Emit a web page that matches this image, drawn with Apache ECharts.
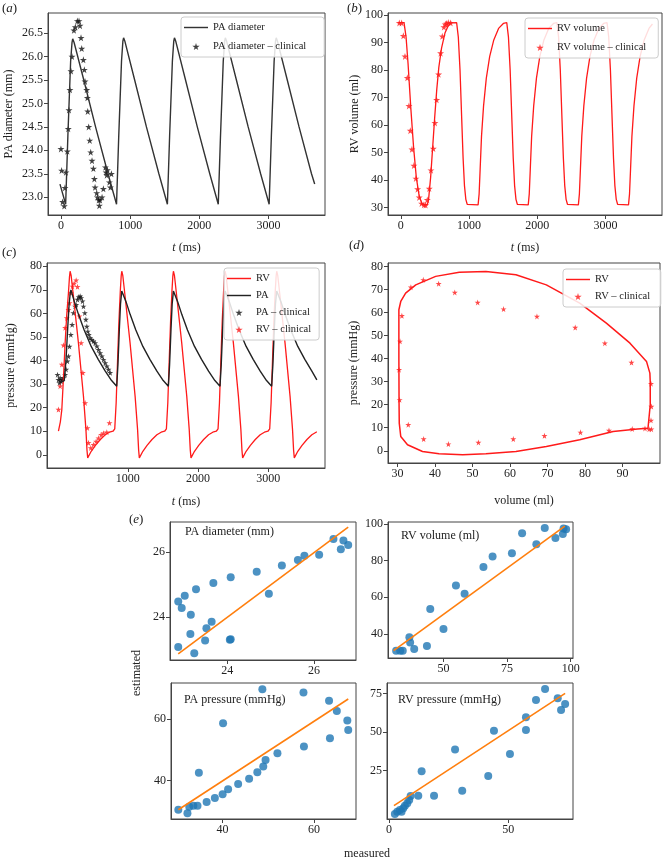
<!DOCTYPE html>
<html>
<head>
<meta charset="utf-8">
<script src="https://cdn.jsdelivr.net/npm/echarts@6/dist/echarts.min.js"></script>
<style>
  html, body { margin: 0; padding: 0; background: #fff; }
  #main { width: 667px; height: 861px; }
</style>
</head>
<body>
<div id="main"></div>
<script>
// ---- (a) PA diameter vs time ----
var paDiaModel = [[-14,23.28],[68,22.85],[100,24.3],[140,25.9],[160,26.3],[170,26.38],[190,26.3],[330,25.5],[500,24.5],[680,23.5],[803,22.85],
  [835,24.3],[875,25.9],[895,26.33],[905,26.4],[925,26.32],[1065,25.5],[1235,24.5],[1415,23.5],[1538,22.85],
  [1570,24.3],[1610,25.9],[1630,26.33],[1640,26.4],[1660,26.32],[1800,25.5],[1970,24.5],[2150,23.5],[2273,22.85],
  [2305,24.3],[2345,25.9],[2365,26.33],[2375,26.4],[2395,26.32],[2535,25.5],[2705,24.5],[2885,23.5],[3008,22.85],
  [3040,24.3],[3080,25.9],[3100,26.33],[3110,26.4],[3130,26.32],[3270,25.5],[3440,24.5],[3620,23.5],[3666,23.28]];
var paDiaClinical = [[0,24.03],[10,23.57],[24,22.9],[48,22.81],[58,23.2],[72,23.53],[92,23.98],[106,24.46],[116,24.86],[130,25.29],
  [145,25.69],[160,26.0],[188,26.56],[208,26.63],[237,26.76],[261,26.76],[275,26.66],[290,26.4],[300,26.17],[324,25.93],
  [338,25.72],[348,25.47],[372,25.29],[382,25.12],[387,24.83],[401,24.5],[416,24.21],[430,23.96],[449,23.78],[469,23.61],
  [483,23.39],[493,23.21],[517,23.09],[527,23.0],[546,22.94],[555,22.82],[565,22.94],[594,23.0],[613,23.18],[642,23.64],
  [652,23.53],[662,23.47],[671,23.58],[700,23.32],[715,23.21],[729,23.5]];

// ---- (b) RV volume vs time ----
var rvVolModel = [[-35,97.3],
  [48,97.3],[78,92],[108,82],[148,66],[188,52],[228,41],[268,34.5],[308,31.5],[348,31],[388,31],[408,33],[438,41],[468,52],[498,63],[528,73],[558,81],[598,88],[648,93.5],[698,96.3],[738,97.2],
  [819,97.3],[844,92],[869,80],[894,62],[914,48],[934,38],[954,33],[974,31.2],[994,31],[1134,31],[1149,35],[1164,44],[1184,56],[1214,67],[1254,77],[1304,85],[1364,91],[1434,95.2],[1504,97],
  [1554,97.3],[1579,92],[1604,80],[1629,62],[1649,48],[1669,38],[1689,33],[1709,31.2],[1729,31],[1869,31],[1884,35],[1899,44],[1919,56],[1949,67],[1989,77],[2039,85],[2099,91],[2169,95.2],[2239,97],
  [2289,97.3],[2314,92],[2339,80],[2364,62],[2384,48],[2404,38],[2424,33],[2444,31.2],[2464,31],[2604,31],[2619,35],[2634,44],[2654,56],[2684,67],[2724,77],[2774,85],[2834,91],[2904,95.2],[2974,97],
  [3024,97.3],[3049,92],[3074,80],[3099,62],[3119,48],[3139,38],[3159,33],[3179,31.2],[3199,31],[3339,31],[3354,35],[3369,44],[3389,56],[3419,67],[3459,77],[3509,85],[3569,91],[3639,95.2],[3690,96.8]];
var rvVolClinical = [[-21,97.2],[13,97.2],[38,92.5],[62,85],[96,77.2],[120,67],[140,58],[164,51.2],[193,45.3],[222,40.6],
  [247,36.7],[271,33.7],[305,31.5],[340,31],[364,30.9],[389,32.8],[418,36.9],[443,43.6],[477,51.5],[501,60.8],
  [526,69.2],[555,78.5],[584,86.2],[609,92.3],[633,95.7],[653,96.7],[672,97],[697,97.3],[731,97.2]];

// ---- (c) pressures vs time ----
var rvPresModel = [[13,10],[40,14],[61,19.2],[90,36],[108,47.5],[130,59],[155,68.7],[170,75.5],[179,77.9],
  [194,76],[226,67.3],[297,47.5],[369,24.8],[404,10.7],[419,2],[429,-1.3],[444,-0.5],[479,1.5],[539,4],[609,6.5],[679,8.5],[739,9.6],[789,10],[814,11],[834,22],[854,40],[874,57],[894,70],[906,76],[914,77.9],
  [929,76],[961,67.3],[1032,47.5],[1104,24.8],[1139,10.7],[1154,2],[1164,-1.3],[1179,-0.5],[1214,1.5],[1274,4],[1344,6.5],[1414,8.5],[1474,9.6],[1524,10],[1549,11],[1569,22],[1589,40],[1609,57],[1629,70],[1641,76],[1649,77.9],
  [1664,76],[1696,67.3],[1767,47.5],[1839,24.8],[1874,10.7],[1889,2],[1899,-1.3],[1914,-0.5],[1949,1.5],[2009,4],[2079,6.5],[2149,8.5],[2209,9.6],[2259,10],[2284,11],[2304,22],[2324,40],[2344,57],[2364,70],[2376,76],[2384,77.9],
  [2399,76],[2431,67.3],[2502,47.5],[2574,24.8],[2609,10.7],[2624,2],[2634,-1.3],[2649,-0.5],[2684,1.5],[2744,4],[2814,6.5],[2884,8.5],[2944,9.6],[2994,10],[3019,11],[3039,22],[3059,40],[3079,57],[3099,70],[3111,76],[3119,77.9],
  [3134,76],[3166,67.3],[3237,47.5],[3309,24.8],[3344,10.7],[3359,2],[3369,-1.3],[3384,-0.5],[3419,1.5],[3479,4],[3549,6.5],[3619,8.5],[3679,9.6],[3690,9.8]];
var paPresModel = [[13,31.5],[60,31],[95,31.5],[120,40],[145,54],[165,64],[182,69],[191,70],
  [239,65],[299,59.5],[379,53],[479,46],[579,40.5],[679,35.5],[769,31.5],[842,29.1],[859,38],[879,53],[896,64],[914,69.5],[926,70],
  [974,65],[1034,59.5],[1114,53],[1214,46],[1314,40.5],[1414,35.5],[1504,31.5],[1577,29.1],[1594,38],[1614,53],[1631,64],[1649,69.5],[1661,70],
  [1709,65],[1769,59.5],[1849,53],[1949,46],[2049,40.5],[2149,35.5],[2239,31.5],[2312,29.1],[2329,38],[2349,53],[2366,64],[2384,69.5],[2396,70],
  [2444,65],[2504,59.5],[2584,53],[2684,46],[2784,40.5],[2884,35.5],[2974,31.5],[3047,29.1],[3064,38],[3084,53],[3101,64],[3119,69.5],[3131,70],
  [3179,65],[3239,59.5],[3319,53],[3419,46],[3519,40.5],[3619,35.5],[3690,31.8]];
var paPresClinical = [[0,34],[13,31.9],[28,30.5],[37,32.6],[51,31.2],[65,31.9],[84,32.6],[108,34],[122,36.2],[141,39.7],
  [156,41.8],[170,46],[189,51],[208,55.2],[227,60.2],[250,63],[265,63.7],[284,65.9],[303,67],[322,67.3],
  [336,66.6],[355,65.2],[369,63],[388,60.2],[403,57.4],[417,54.5],[431,52.4],[445,51],[464,49.6],[488,48.9],
  [511,48.2],[535,47.5],[559,46.1],[583,44.6],[606,43.2],[630,41.8],[654,40.4],[678,39],[701,37.6],[725,36.2],[749,34.8]];
var rvPresClinical = [[13,19.2],[37,29.1],[61,38.3],[84,46.5],[108,53.9],[132,58.1],[156,61.6],[170,64.4],[189,68.7],[212,71.5],
  [236,72.7],[265,74.1],[284,71.3],[312,58.8],[336,47.5],[360,34.8],[393,22],[425,11.4],[440,5.1],[473,2.9],
  [511,4.3],[549,5.7],[582,7.1],[620,8.5],[654,9.2],[701,9.6],[739,13.5]];

// ---- (d) RV pressure-volume loop ----
var pvLoopModel = [[30.5,12],[30.9,6.2],[32.7,2.6],[36.7,-0.3],[41.1,-1.3],[47.4,-1.7],[53.6,-1.3],[61.6,-0.3],[69.7,1.9],[78.6,4.8],
  [87.5,8.4],[94,9.5],[96.8,9.8],[97.3,10.6],[97.4,20],[97.4,30],[97.3,33.7],[96.4,38.8],[92,46.7],[85.7,55.4],[78.6,64.1],
  [69.7,72],[61.6,76.4],[53.6,77.8],[46.5,77.5],[40.2,75.7],[34.9,72],[32.2,68.4],[30.9,64.8],[30.4,61.2],[30.4,40],[30.45,20],[30.5,12]];
var pvLoopClinical = [[30.45,35.2],[30.7,47.5],[31.2,58.6],[30.6,22.1],[33.6,71],[36.9,74.2],[41,72.5],[45.3,68.7],[51.4,64.4],[58.3,61.5],
  [67.2,58.3],[77.4,53.5],[85.3,46.7],[92.4,38.3],[97.6,29.1],[97.7,19.2],[97.6,13.2],[32.9,11.3],[37,5.1],[43.6,2.9],
  [51.6,3.6],[60.9,5.1],[69.2,6.5],[78.8,8],[86.4,8.8],[92.6,9.5],[96,9.7],[97.1,9.4],[97.7,9.4]];

// ---- (e) measured vs estimated ----
var paDiaPairs = [[22.87,24.48],[22.95,24.28],[23.02,24.66],[23.28,24.86],[23.68,25.05],[24.08,25.23],[24.68,25.4],[24.96,24.72],
  [25.26,25.59],[25.63,25.76],[25.78,25.89],[26.12,25.92],[23.16,24.07],[23.15,23.48],[23.52,23.66],[23.64,23.86],[23.49,23.28],
  [24.06,23.3],[22.87,23.08],[23.24,22.89],[24.08,23.32],[26.45,26.41],[26.68,26.36],[26.62,26.09],[26.79,26.22]];
var rvVolPairs = [[36.6,38.2],[44.8,53.6],[50,42.6],[54.9,66.4],[58.3,61.9],[65.7,76.5],[69.3,82.2],[31.4,30.8],[33,30.7],[34,30.8],
  [36.9,35.2],[38.5,31.7],[43.5,33.4],[76.9,84],[80.9,95],[86.5,89],[89.8,97.8],[94,92.3],[96.9,94.5],[97.2,97.6],[98.2,97.2]];
var paPresPairs = [[30.3,30.5],[32.3,29.4],[32.7,31.5],[33.6,31.8],[34.5,31.8],[34.8,42.6],[36.5,33],[38.3,34.3],[40,35.6],[41.2,37.2],
  [40.1,58.7],[43.4,38.9],[45.8,40.6],[47.6,42.7],[48.9,44.6],[49.4,46.7],[48.7,69.8],[52,48.9],[57.8,51.1],[57.7,68.7],
  [63.3,66],[65,62.7],[67.3,59.6],[67.5,56.5],[63.5,53.8]];
var rvPresPairs = [[2.5,-2.9],[3.5,-1.5],[4.6,-0.4],[5.3,-1.5],[6,0.7],[6.7,2.4],[7.7,3.9],[8.5,6.1],[9.1,8.7],[12.3,8.9],
  [13.7,24.6],[18.9,8.9],[27.7,38.8],[30.7,12.1],[41.6,21.6],[44,50.8],[50.7,35.8],[57.4,59.5],[57.4,51.3],[61.6,70.7],
  [65.4,77.8],[70.7,71.8],[72.1,64.2],[73.8,68.1]];
var paDiaFit = [[22.87,22.87],[26.79,26.77]];
var rvVolFit = [[30.4,30.8],[97.7,98.9]];
var paPresFit = [[30.3,30.5],[67.5,66.6]];
var rvPresFit = [[2.1,2.4],[73.8,75]];

// tick values
var ticksA_y = [23.0,23.5,24.0,24.5,25.0,25.5,26.0,26.5];
var ticksTime = [0,1000,2000,3000];
var ticksTimeC = [1000,2000,3000];
var ticksB_y = [30,40,50,60,70,80,90,100];
var ticksPres = [0,10,20,30,40,50,60,70,80];
var ticksD_x = [30,40,50,60,70,80,90];
var ticksTL = [24,26];
var ticksTR_y = [40,60,80,100];
var ticksTR_x = [50,75,100];
var ticksBL = [40,60];
var ticksBR_y = [25,50,75];
var ticksBR_x = [0,50];

var FONT = '"Liberation Serif","DejaVu Serif",serif';
var STAR = 'path://M50,0 L61,35 L98,35 L68,57 L79,91 L50,70 L21,91 L32,57 L2,35 L39,35 Z';
var LINE_ICON = 'path://M0,0 L100,0 L100,6 L0,6 Z';

var grids = [
  {left: 48, top: 13, width: 277, height: 202},   // a
  {left: 388, top: 13, width: 274, height: 202},  // b
  {left: 47, top: 263, width: 278, height: 205},  // c
  {left: 388, top: 263, width: 272, height: 200}, // d
  {left: 170, top: 522, width: 186, height: 138}, // e TL
  {left: 388, top: 522, width: 185, height: 136}, // e TR
  {left: 171, top: 683, width: 185, height: 136}, // e BL
  {left: 387, top: 683, width: 186, height: 136}  // e BR
];
grids.forEach(function (g) {
  g.show = true; g.borderColor = '#444'; g.borderWidth = 1; g.containLabel = false;
});

function axis(gi, min, max, ticks, opts) {
  opts = opts || {};
  var a = {
    type: 'value', gridIndex: gi, min: min, max: max, scale: true,
    splitLine: {show: false},
    axisLine: {show: true, onZero: false, lineStyle: {color: '#444', width: 1}},
    axisTick: {show: true, customValues: ticks, length: 4, lineStyle: {color: '#444'}},
    axisLabel: {customValues: ticks, fontFamily: FONT, fontSize: 12, color: '#222', margin: 5,
      formatter: opts.fmt || function (v) { return String(v); }}
  };
  if (opts.name) {
    a.name = opts.name;
    a.nameLocation = 'middle';
    a.nameGap = opts.gap;
    a.nameTextStyle = {fontFamily: FONT, fontSize: 12, color: '#222',
      rich: {it: {fontStyle: 'italic', fontFamily: FONT, fontSize: 12, color: '#222'}}};
  }
  return a;
}

var xAxes = [
  axis(0, -187, 3815, ticksTime, {name: '{it|t} (ms)', gap: 27}),
  axis(1, -187, 3830, ticksTime, {name: '{it|t} (ms)', gap: 27}),
  axis(2, -150, 3806, ticksTimeC, {name: '{it|t} (ms)', gap: 28}),
  axis(3, 27.5, 100, ticksD_x, {name: 'volume (ml)', gap: 32}),
  axis(4, 22.68, 26.97, ticksTL),
  axis(5, 28.2, 100.9, ticksTR_x),
  axis(6, 28.7, 69.2, ticksBL),
  axis(7, -0.8, 77.1, ticksBR_x)
];
var yAxes = [
  axis(0, 22.62, 26.93, ticksA_y, {name: 'PA diameter (mm)', gap: 33, fmt: function (v) { return v.toFixed(1); }}),
  axis(1, 27.3, 100.8, ticksB_y, {name: 'RV volume (ml)', gap: 25}),
  axis(2, -5.6, 81.4, ticksPres, {name: 'pressure (mmHg)', gap: 30}),
  axis(3, -5.3, 81.5, ticksPres, {name: 'pressure (mmHg)', gap: 28}),
  axis(4, 22.68, 26.93, ticksTL),
  axis(5, 26.8, 101.1, ticksTR_y),
  axis(6, 27.5, 71.8, ticksBL),
  axis(7, -6.2, 81.7, ticksBR_y)
];

function line(name, gi, data, color, w) {
  return {name: name, type: 'line', xAxisIndex: gi, yAxisIndex: gi, data: data, symbol: 'none',
    lineStyle: {color: color, width: w || 1.3}, itemStyle: {color: color}, animation: false, silent: true};
}
function stars(name, gi, data, color, size) {
  return {name: name, type: 'scatter', xAxisIndex: gi, yAxisIndex: gi, data: data, symbol: STAR,
    symbolSize: size || 7, itemStyle: {color: color}, animation: false, silent: true};
}
function dots(gi, data) {
  return {name: 'pts' + gi, type: 'scatter', xAxisIndex: gi, yAxisIndex: gi, data: data, symbol: 'circle',
    symbolSize: 8, itemStyle: {color: '#1f77b4'}, animation: false, silent: true};
}

var RED = '#ff1a1a', BLACK = '#222222';

var series = [
  line('PA diameter', 0, paDiaModel, '#333333', 1.4),
  stars('PA diameter – clinical', 0, paDiaClinical, '#111111', 7),
  line('RV volume', 1, rvVolModel, RED, 1.3),
  stars('RV volume – clinical', 1, rvVolClinical, RED, 7),
  line('RV', 2, rvPresModel, RED, 1.3),
  line('PA', 2, paPresModel, BLACK, 1.4),
  stars('PA – clinical', 2, paPresClinical, '#111111', 6),
  stars('RV – clinical', 2, rvPresClinical, RED, 6),
  line('RV ', 3, pvLoopModel, RED, 1.5),
  stars('RV – clinical ', 3, pvLoopClinical, RED, 6),
  dots(4, paDiaPairs), line('fit4', 4, paDiaFit, '#ff7f0e', 1.6),
  dots(5, rvVolPairs), line('fit5', 5, rvVolFit, '#ff7f0e', 1.6),
  dots(6, paPresPairs), line('fit6', 6, paPresFit, '#ff7f0e', 1.6),
  dots(7, rvPresPairs), line('fit7', 7, rvPresFit, '#ff7f0e', 1.6)
];

function legend(items, left, top, gap, padRight) {
  var data = items.map(function (it) {
    return it.line ? {name: it.name, icon: LINE_ICON} : {name: it.name};
  });
  return {data: data, left: left, top: top, orient: 'vertical', itemWidth: 24, itemHeight: 7, itemGap: gap,
    padding: [5, padRight, 5, 3], borderColor: '#cccccc', borderWidth: 1, borderRadius: 3,
    backgroundColor: 'rgba(255,255,255,0.85)', selectedMode: false,
    textStyle: {fontFamily: FONT, fontSize: 10.5, color: '#222'}};
}

function txt(x, y, text, extra) {
  var s = {text: text, x: 0, y: 0, fontFamily: FONT, fontSize: 12, fill: '#222',
    rich: {i: {fontStyle: 'italic', fontFamily: FONT, fontSize: 13, fill: '#222'}}};
  for (var k in (extra || {})) s[k] = extra[k];
  return {type: 'text', x: x, y: y, style: s, silent: true};
}

var graphics = [
  txt(2, 2, '({i|a})', {fontSize: 13}),
  txt(347, 2, '({i|b})', {fontSize: 13}),
  txt(2, 246, '({i|c})', {fontSize: 13}),
  txt(349, 239, '({i|d})', {fontSize: 13}),
  txt(129, 513, '({i|e})', {fontSize: 13}),
  txt(185, 532, 'PA diameter (mm)', {verticalAlign: 'middle'}),
  txt(401, 536, 'RV volume (ml)', {verticalAlign: 'middle'}),
  txt(184, 700, 'PA pressure (mmHg)', {verticalAlign: 'middle'}),
  txt(398, 700, 'RV pressure (mmHg)', {verticalAlign: 'middle'}),
  txt(367, 854, 'measured', {align: 'center', verticalAlign: 'middle'})
];
var est = txt(137, 673, 'estimated', {align: 'center', verticalAlign: 'middle'});
est.rotation = Math.PI / 2;
graphics.push(est);

var chart = echarts.init(document.getElementById('main'), null, {renderer: 'canvas'});
chart.setOption({
  animation: false,
  backgroundColor: '#ffffff',
  grid: grids,
  xAxis: xAxes,
  yAxis: yAxes,
  legend: [
    legend([{name: 'PA diameter', line: true}, {name: 'PA diameter – clinical'}], 181, 17, 8, 18),
    legend([{name: 'RV volume', line: true}, {name: 'RV volume – clinical'}], 525, 18, 8, 12),
    legend([{name: 'RV', line: true}, {name: 'PA', line: true}, {name: 'PA – clinical'}, {name: 'RV – clinical'}], 224, 268, 6, 8),
    legend([{name: 'RV ', line: true}, {name: 'RV – clinical '}], 563, 269, 6, 8)
  ],
  series: series,
  graphic: graphics
});
</script>
</body>
</html>
